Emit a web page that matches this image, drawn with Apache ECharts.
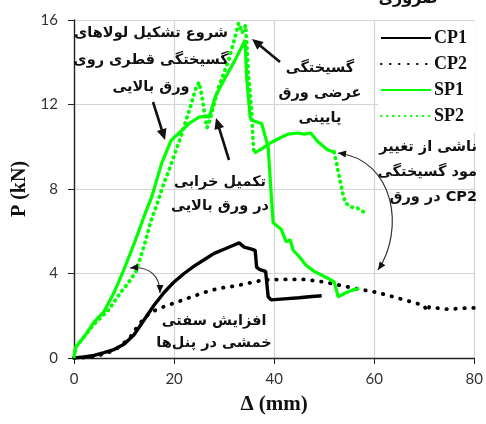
<!DOCTYPE html>
<html><head><meta charset="utf-8">
<script src="https://cdn.jsdelivr.net/npm/echarts@6/dist/echarts.min.js"></script>
<style>html,body{margin:0;padding:0;background:#fff}#c{width:486px;height:424px}</style>
</head><body><div id="c"></div>
<script>
// ---- data (Δ in mm, P in kN) ----
const xTickValues = [0, 20, 40, 60, 80];
const yTickValues = [0, 4, 8, 12, 16];
const seriesNames = ['CP1', 'CP2', 'SP1', 'SP2'];
const cp1 = [[0,0],[2,0.05],[4,0.12],[6,0.25],[8,0.4],[10,0.65],[12,1.1],[14,1.8],[16,2.5],[18,3.1],[20,3.6],[22,4.0],[24,4.35],[26,4.65],[28,4.95],[30,5.15],[32,5.35],[33,5.45],[34,5.25],[35.5,5.15],[36.2,5.1],[36.5,4.3],[37,4.2],[38.3,4.1],[38.8,2.9],[39.4,2.75],[42,2.8],[45,2.85],[47,2.9],[49.5,2.95]];
const cp2 = [[0,0],[4,0.05],[8,0.35],[11,0.9],[13,1.6],[15,2.1],[17,2.35],[20,2.6],[23,2.85],[26,3.1],[29,3.3],[32,3.4],[35,3.55],[38,3.7],[42,3.72],[46,3.72],[50,3.6],[53,3.45],[56,3.3],[60,3.13],[63,2.95],[66,2.75],[68,2.62],[70,2.48],[70.5,2.2],[71,2.42],[73,2.35],[75,2.3],[77,2.35],[80,2.37]];
const sp1 = [[0,0],[0.3,0.5],[2,1.0],[4,1.7],[6,2.2],[8,3.1],[10,4.2],[12,5.4],[14,6.7],[15.5,7.6],[17.5,9.2],[19.4,10.3],[21,10.65],[23,11.1],[25,11.4],[26.5,11.45],[27,11.4],[28.3,12.4],[30.3,13.3],[32.2,14.1],[34.2,15.05],[34.5,13.3],[35.2,11.4],[35.5,11.25],[37.5,11.1],[38.2,10.5],[38.8,10.0],[39.2,8.5],[39.8,6.4],[41.4,6.1],[42.4,5.5],[43.2,5.6],[43.8,5.1],[45,4.8],[46.3,4.4],[48,4.1],[50.5,3.8],[52,3.6],[52.8,2.9],[54,3.05],[55.5,3.2],[57,3.3]];
const sp2 = [[0,0],[0.3,0.5],[2,1.0],[4,1.6],[7,2.3],[9,3.0],[11,3.6],[12.4,4.1],[14,5.3],[15.4,6.5],[16.4,7.15],[18,8.3],[19,8.9],[20.4,9.85],[21.4,10.5],[23,11.7],[24.4,12.8],[25,13.05],[25.6,12.35],[26.3,11.25],[26.6,10.9],[27.3,11.4],[28.9,12.8],[30.9,14.1],[32.2,15.2],[32.9,15.85],[33.6,15.4],[34.3,15.75],[34.9,13.3],[35.5,11.7],[35.8,10.2],[36,9.7]];
const sp2Mid = [[36,9.7],[37.5,9.9],[39.4,10.2],[41,10.4],[42.8,10.6],[44.8,10.65],[46,10.6],[47.3,10.65],[48.7,10.25],[50.7,9.85],[52,9.75]];
const sp2Tail = [[52,9.75],[52.4,9.3],[53,8.6],[53.7,7.8],[54.2,7.35],[55.3,7.15],[56.6,7.1],[58,6.9]];

// ---- drawing ----
const chart = echarts.init(document.getElementById('c'), null, {renderer: 'canvas'});
const GREEN = '#00ff00';
const faFont = 'DejaVu Sans';

function head(x, y, fx, fy, size, w) {
  const a = Math.atan2(y - fy, x - fx);
  const s = size, hw = w;
  const bx = x - s * Math.cos(a), by = y - s * Math.sin(a);
  return {type: 'polygon', shape: {points: [[x, y], [bx + hw * Math.sin(a), by - hw * Math.cos(a)], [bx - hw * Math.sin(a), by + hw * Math.cos(a)]]}, style: {fill: '#111'}, z: 50};
}
function arrow(x1, y1, x2, y2) {
  const a = Math.atan2(y2 - y1, x2 - x1);
  const ex = x2 - 8 * Math.cos(a), ey = y2 - 8 * Math.sin(a);
  return [
    {type: 'line', shape: {x1: x1, y1: y1, x2: ex, y2: ey}, style: {stroke: '#111', lineWidth: 2.6}, z: 50},
    head(x2, y2, x1, y1, 11, 5)
  ];
}
function curve(x1, y1, c1x, c1y, c2x, c2y, x2, y2) {
  return [
    {type: 'bezierCurve', shape: {x1: x1, y1: y1, cpx1: c1x, cpy1: c1y, cpx2: c2x, cpy2: c2y, x2: x2, y2: y2}, style: {stroke: '#333', lineWidth: 1.2, fill: null}, z: 50},
    head(x1, y1, c1x, c1y, 8, 3.5),
    head(x2, y2, c2x, c2y, 8, 3.5)
  ];
}
function faText(x, y, lines, align, gap) {
  return lines.map((t, i) => ({type: 'text', x: x, y: y + i * gap, z: 60,
    style: {text: t, font: 'bold 14.5px "' + faFont + '"', fill: '#111', textAlign: align, textVerticalAlign: 'middle'}}));
}

const graphics = [].concat(
  faText(151, 33, ['شروع تشکیل لولاهای', 'گسیختگی قطری روی', 'ورق بالایی'], 'center', 27),
  arrow(153, 102, 165, 140),
  faText(220, 182, ['تکمیل خرابی', 'در ورق بالایی'], 'center', 24),
  arrow(229, 160, 216, 118),
  faText(320, 68, ['گسیختگی', 'عرضی ورق', 'پایینی'], 'center', 25),
  arrow(280, 62, 252, 39),
  faText(477, 147, ['ناشی از تغییر', 'مود گسیختگی', 'در ورق CP2'], 'right', 25),
  curve(338, 153, 395, 160, 405, 230, 378, 270),
  faText(214, 321, ['افزایش سفتی', 'خمشی در پنل‌ها'], 'center', 22),
  curve(130, 268, 150, 266, 160, 276, 160, 293),
  [{type: 'text', x: 408, y: -9, style: {text: 'ضروری', font: 'bold 16px "' + faFont + '"', fill: '#111', textAlign: 'center'}}]
);

const lineCommon = {type: 'line', showSymbol: false, symbol: 'none', smooth: false, animation: false};
chart.setOption({
  animation: false,
  grid: {left: 74, right: 8, top: 20, bottom: 66, containLabel: false},
  legend: {
    data: seriesNames, orient: 'vertical', left: 378, top: 21,
    padding: [8, 8, 8, 2], backgroundColor: '#fff', itemWidth: 50, itemHeight: 14, itemGap: 8, align: 'left',
    itemStyle: {color: 'rgba(0,0,0,0)', borderWidth: 0, opacity: 0},
    textStyle: {fontFamily: 'Liberation Serif', fontWeight: 'bold', fontSize: 18, color: '#111', padding: [0, 0, 0, -2]},
    z: 40
  },
  xAxis: {
    type: 'value', min: xTickValues[0], max: xTickValues[xTickValues.length - 1], interval: 20,
    name: 'Δ (mm)', nameLocation: 'middle', nameGap: 36,
    nameTextStyle: {fontFamily: 'Liberation Serif', fontWeight: 'bold', fontSize: 21, color: '#111'},
    axisLine: {onZero: false, lineStyle: {color: '#222', width: 1.4}},
    axisTick: {show: true, length: 6, lineStyle: {color: '#222'}},
    axisLabel: {margin: 14, fontFamily: 'Lato', fontSize: 15, color: '#333'},
    splitLine: {show: true, lineStyle: {color: '#d4d4d4', width: 1.2}}
  },
  yAxis: {
    type: 'value', min: yTickValues[0], max: yTickValues[yTickValues.length - 1], interval: 4,
    name: 'P (kN)', nameLocation: 'middle', nameGap: 34, nameRotate: 90,
    nameTextStyle: {fontFamily: 'Liberation Serif', fontWeight: 'bold', fontSize: 20, color: '#111'},
    axisLine: {show: true, onZero: false, lineStyle: {color: '#222', width: 1.4}},
    axisTick: {show: true, length: 6, lineStyle: {color: '#222'}},
    axisLabel: {margin: 16, fontFamily: 'Lato', fontSize: 15, color: '#333'},
    splitLine: {show: true, lineStyle: {color: '#d4d4d4', width: 1.2}}
  },
  series: [
    Object.assign({}, lineCommon, {name: 'CP1', data: cp1, z: 5, lineStyle: {color: '#000', width: 3.4}, itemStyle: {color: '#000'}}),
    Object.assign({}, lineCommon, {name: 'CP2', data: cp2, z: 4, lineStyle: {color: '#000', width: 3.8, type: [0.5, 8.5], cap: 'round'}, itemStyle: {color: '#000'}}),
    Object.assign({}, lineCommon, {name: 'SP1', data: sp1, z: 6, lineStyle: {color: GREEN, width: 3.2}, itemStyle: {color: GREEN}}),
    Object.assign({}, lineCommon, {name: 'SP2', data: sp2, z: 3, lineStyle: {color: GREEN, width: 3.8, type: [0.5, 5.5], cap: 'round'}, itemStyle: {color: GREEN}}),
    Object.assign({}, lineCommon, {name: 'SP2 ', data: sp2Mid, z: 3, lineStyle: {color: GREEN, width: 3.2}, itemStyle: {color: GREEN}}),
    Object.assign({}, lineCommon, {name: 'SP2  ', data: sp2Tail, z: 3, lineStyle: {color: GREEN, width: 3.8, type: [0.5, 5.5], cap: 'round'}, itemStyle: {color: GREEN}})
  ],
  graphic: graphics
});
</script></body></html>
